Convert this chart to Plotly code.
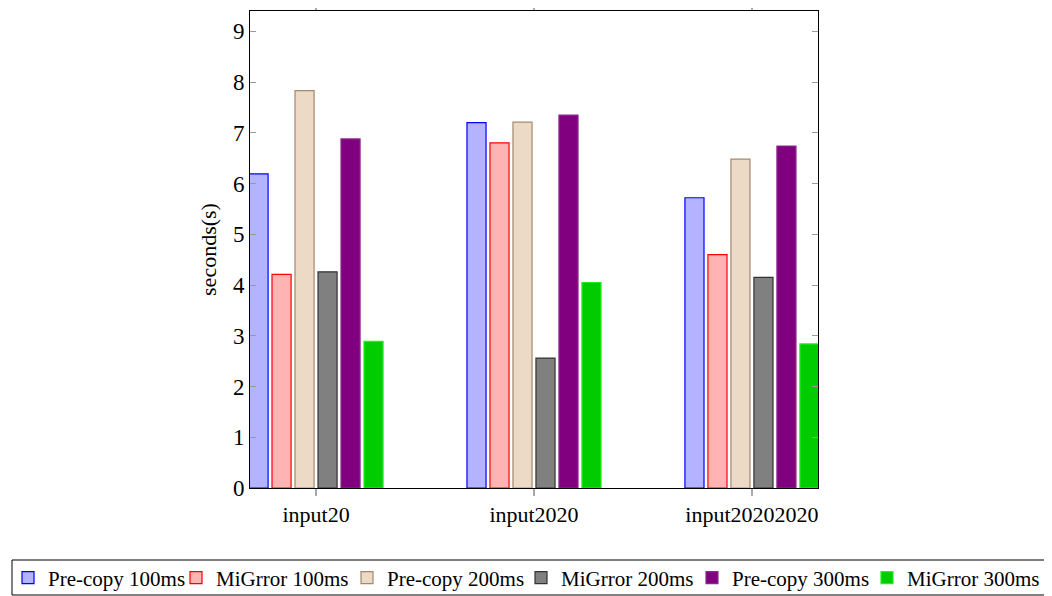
import plotly.graph_objects as go

categories = ["input20", "input2020", "input20202020"]
series_names = ["Pre-copy 100ms", "MiGrror 100ms", "Pre-copy 200ms",
                "MiGrror 200ms", "Pre-copy 300ms", "MiGrror 300ms"]
pre_copy_100 = [6.19, 7.20, 5.72]
migrror_100 = [4.21, 6.80, 4.60]
pre_copy_200 = [7.83, 7.21, 6.48]
migrror_200 = [4.26, 2.56, 4.15]
pre_copy_300 = [6.88, 7.35, 6.74]
migrror_300 = [2.89, 4.05, 2.84]
y_ticks = [0, 1, 2, 3, 4, 5, 6, 7, 8, 9]

values = [pre_copy_100, migrror_100, pre_copy_200, migrror_200, pre_copy_300, migrror_300]
fills = ["#b3b3ff", "#ffb3b3", "#ecd9c6", "#808080", "#800080", "#00cc00"]
edges = ["#0000ff", "#ff0000", "#a3896e", "#333333", "#8c2a8c", "#22ee22"]
# left edge of each legend entry's text, in figure pixels
legend_text_x = [40, 208, 379, 553, 724, 899]

W, H = 1052, 596
ML, MR, MT, MB = 242, 242, 3, 116
font_family = "Liberation Serif, Times New Roman, serif"

fig = go.Figure()
legend_layouts = {}
for i, (name, vals, fc, ec) in enumerate(zip(series_names, values, fills, edges)):
    key = "legend" if i == 0 else f"legend{i + 1}"
    fig.add_trace(go.Bar(
        x=list(range(len(categories))), y=vals, name=name, legend=key,
        marker=dict(color=fc, line=dict(color=ec, width=1.2)),
    ))
    legend_layouts[key] = dict(
        orientation="h", xref="container", yref="container",
        x=(legend_text_x[i] - 40) / W, xanchor="left",
        y=1 - 570 / H, yanchor="middle",
        bgcolor="rgba(0,0,0,0)", borderwidth=0,
        font=dict(size=21, family=font_family, color="black"),
        itemwidth=30,
    )

fig.update_layout(
    width=W, height=H,
    margin=dict(l=ML, r=MR, t=MT, b=MB, autoexpand=False),
    plot_bgcolor="white", paper_bgcolor="white",
    barmode="group", bargap=0.367, bargroupgap=0.17,
    font=dict(family=font_family, size=22, color="black"),
    showlegend=True,
    xaxis=dict(
        range=[-0.303, 2.303], tickvals=[0, 1, 2], ticktext=categories,
        showline=True, linecolor="black", linewidth=1, mirror="ticks",
        ticks="outside", ticklen=7, tickcolor="#aaaaaa", tickwidth=1.5,
        showgrid=False, zeroline=False, tickfont=dict(size=22),
    ),
    yaxis=dict(
        range=[0, 9.4], tickvals=y_ticks,
        showline=True, linecolor="black", linewidth=1, mirror="ticks",
        ticks="inside", ticklen=6, tickcolor="#999999", tickwidth=1,
        showgrid=False, zeroline=False, tickfont=dict(size=23),
        title=dict(text="seconds(s)", font=dict(size=22), standoff=10),
    ),
    **legend_layouts,
)

pw, ph = W - ML - MR, H - MT - MB
fig.add_shape(
    type="rect", xref="paper", yref="paper",
    x0=(4 - ML) / pw, x1=(1040 - ML) / pw,
    y0=(H - MB - 552) / ph, y1=(H - MB - 587) / ph,
    line=dict(color="black", width=1), fillcolor="rgba(0,0,0,0)",
)

fig.write_html("out.html")
